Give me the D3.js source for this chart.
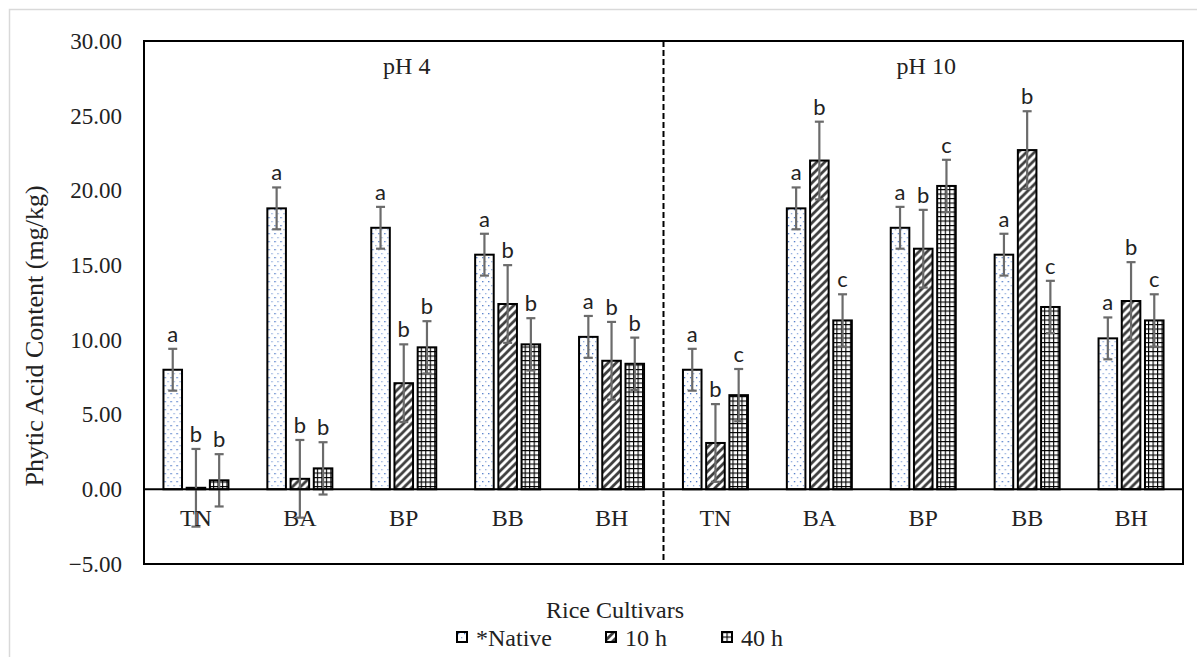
<!DOCTYPE html>
<html>
<head>
<meta charset="utf-8">
<script src="https://cdn.jsdelivr.net/npm/d3@7"></script>
<style>
  body { margin: 0; background: #fff; }
  svg { display: block; }
</style>
</head>
<body>
<div id="chart"></div>
<script>
// data
const cultivars = ['TN', 'BA', 'BP', 'BB', 'BH', 'TN', 'BA', 'BP', 'BB', 'BH'];
const panels = ['pH 4', 'pH 10'];
const series = ['*Native', '10 h', '40 h'];

const nativeVals = [8.0, 18.8, 17.5, 15.7, 10.2, 8.0, 18.8, 17.5, 15.7, 10.1];
const h10Vals = [0.1, 0.7, 7.1, 12.4, 8.6, 3.1, 22.0, 16.1, 22.7, 12.6];
const h40Vals = [0.6, 1.4, 9.5, 9.7, 8.4, 6.3, 11.3, 20.3, 12.2, 11.3];

const nativeErr = [1.4, 1.4, 1.4, 1.4, 1.4, 1.4, 1.4, 1.4, 1.4, 1.4];
const h10Err = [2.6, 2.6, 2.6, 2.6, 2.6, 2.6, 2.6, 2.6, 2.6, 2.6];
const h40Err = [1.75, 1.75, 1.75, 1.75, 1.75, 1.75, 1.75, 1.75, 1.75, 1.75];

const nativeLetters = ['a', 'a', 'a', 'a', 'a', 'a', 'a', 'a', 'a', 'a'];
const h10Letters = ['b', 'b', 'b', 'b', 'b', 'b', 'b', 'b', 'b', 'b'];
const h40Letters = ['b', 'b', 'b', 'b', 'b', 'c', 'c', 'c', 'c', 'c'];

const yTicks = [-5, 0, 5, 10, 15, 20, 25, 30];

const width = 1197, height = 657;
const plot = { left: 144, right: 1183, top: 41, bottom: 564 };

const svg = d3.select('#chart').append('svg')
    .attr('width', width)
    .attr('height', height);

// patterns
const defs = svg.append('defs');

const pDots = defs.append('pattern')
    .attr('id', 'pat-native')
    .attr('patternUnits', 'userSpaceOnUse')
    .attr('width', 6).attr('height', 8);
pDots.append('rect').attr('width', 6).attr('height', 8).attr('fill', '#fff');
pDots.append('rect').attr('x', 1).attr('y', 1).attr('width', 1.3).attr('height', 1.3).attr('fill', '#4472c4');
pDots.append('rect').attr('x', 4).attr('y', 5).attr('width', 1.3).attr('height', 1.3).attr('fill', '#8eaadb');

const pDiag = defs.append('pattern')
    .attr('id', 'pat-10h')
    .attr('patternUnits', 'userSpaceOnUse')
    .attr('width', 8).attr('height', 8);
pDiag.append('rect').attr('width', 8).attr('height', 8).attr('fill', '#fff');
pDiag.append('path')
    .attr('d', 'M-2,10 L10,-2 M-2,2 L2,-2 M6,10 L10,6')
    .attr('stroke', '#404040')
    .attr('stroke-width', 2.8);

const pGrid = defs.append('pattern')
    .attr('id', 'pat-40h')
    .attr('patternUnits', 'userSpaceOnUse')
    .attr('width', 4.5).attr('height', 4.5);
pGrid.append('rect').attr('width', 4.5).attr('height', 4.5).attr('fill', '#fff');
pGrid.append('path')
    .attr('d', 'M0,0.5 H4.5 M0.5,0 V4.5')
    .attr('stroke', '#000')
    .attr('stroke-width', 1.2);

const fills = ['url(#pat-native)', 'url(#pat-10h)', 'url(#pat-40h)'];

// outer chart border (Excel chart area)
svg.append('rect')
    .attr('x', 9.5).attr('y', 9.5)
    .attr('width', width + 20).attr('height', height + 20)
    .attr('fill', 'none')
    .attr('stroke', '#d9d9d9')
    .attr('stroke-width', 1.5);

// scales
const y = d3.scaleLinear().domain([-5, 30]).range([plot.bottom, plot.top]);
const x0 = d3.scaleBand()
    .domain(d3.range(cultivars.length))
    .range([plot.left, plot.right])
    .padding(0);
const groupW = 65;
const x1 = d3.scaleBand()
    .domain(d3.range(series.length))
    .range([0, groupW])
    .paddingInner(0.2);

const rows = cultivars.map((c, i) => ({
    i: i,
    vals: [nativeVals[i], h10Vals[i], h40Vals[i]],
    errs: [nativeErr[i], h10Err[i], h40Err[i]],
    letters: [nativeLetters[i], h10Letters[i], h40Letters[i]]
}));

const serif = "'Liberation Serif', 'Times New Roman', serif";

// y axis
const yAxis = svg.append('g')
    .attr('transform', `translate(${plot.left},0)`)
    .call(d3.axisLeft(y).tickValues(yTicks).tickFormat(d3.format('.2f')).tickSize(0).tickPadding(22));
yAxis.select('.domain').remove();
yAxis.selectAll('text')
    .attr('font-family', serif)
    .attr('font-size', 23)
    .attr('fill', '#222');

// bars
const groups = svg.selectAll('.grp')
    .data(rows)
    .join('g')
    .attr('class', 'grp')
    .attr('transform', d => `translate(${x0(d.i) + x0.bandwidth() / 2 - groupW / 2},0)`);

const cells = groups.selectAll('.cell')
    .data(d => d.vals.map((v, k) => ({ v: v, e: d.errs[k], l: d.letters[k], k: k })))
    .join('g')
    .attr('class', 'cell');

cells.append('rect')
    .attr('x', d => x1(d.k))
    .attr('y', d => y(Math.max(0, d.v)))
    .attr('width', x1.bandwidth())
    .attr('height', d => Math.abs(y(d.v) - y(0)))
    .attr('fill', d => fills[d.k])
    .attr('stroke', '#000')
    .attr('stroke-width', 2);

// x axis line at zero
svg.append('line')
    .attr('x1', plot.left).attr('x2', plot.right)
    .attr('y1', y(0)).attr('y2', y(0))
    .attr('stroke', '#000')
    .attr('stroke-width', 2);

// category labels
const xAxis = svg.append('g')
    .attr('transform', `translate(0,${y(0)})`)
    .call(d3.axisBottom(x0).tickFormat(i => cultivars[i]).tickSize(0).tickPadding(20));
xAxis.select('.domain').remove();
xAxis.selectAll('text')
    .attr('font-family', serif)
    .attr('font-size', 24)
    .attr('fill', '#222');

// error bars
const errColor = '#6b6b6b';
const capW = 9;
cells.each(function (d) {
    const g = d3.select(this);
    const cx = x1(d.k) + x1.bandwidth() / 2;
    g.append('line')
        .attr('x1', cx).attr('x2', cx)
        .attr('y1', y(d.v + d.e)).attr('y2', y(d.v - d.e))
        .attr('stroke', errColor).attr('stroke-width', 2.2);
    [d.v + d.e, d.v - d.e].forEach(t => {
        g.append('line')
            .attr('x1', cx - capW / 2).attr('x2', cx + capW / 2)
            .attr('y1', y(t)).attr('y2', y(t))
            .attr('stroke', errColor).attr('stroke-width', 2.2);
    });
    g.append('text')
        .attr('x', cx)
        .attr('y', y(d.v + d.e) - 7)
        .attr('text-anchor', 'middle')
        .attr('font-family', 'Lato, sans-serif')
        .attr('font-size', 22)
        .attr('fill', '#222')
        .text(d.l);
});

// plot frame and divider
svg.append('rect')
    .attr('x', plot.left).attr('y', plot.top)
    .attr('width', plot.right - plot.left)
    .attr('height', plot.bottom - plot.top)
    .attr('fill', 'none')
    .attr('stroke', '#000')
    .attr('stroke-width', 2);

const midX = (x0(4) + x0.bandwidth() + x0(5)) / 2;
svg.append('line')
    .attr('x1', midX).attr('x2', midX)
    .attr('y1', plot.top).attr('y2', plot.bottom)
    .attr('stroke', '#000')
    .attr('stroke-width', 2)
    .attr('stroke-dasharray', '6,3');

// panel titles
svg.selectAll('.panel')
    .data(panels)
    .join('text')
    .attr('class', 'panel')
    .attr('x', (d, i) => (x0(i * 5) + x0(i * 5 + 4) + x0.bandwidth()) / 2 + 3)
    .attr('y', 74)
    .attr('text-anchor', 'middle')
    .attr('font-family', serif)
    .attr('font-size', 24)
    .attr('fill', '#222')
    .text(d => d);

// axis titles
svg.append('text')
    .attr('transform', 'translate(43,336) rotate(-90)')
    .attr('text-anchor', 'middle')
    .attr('font-family', serif)
    .attr('font-size', 26)
    .attr('fill', '#222')
    .text('Phytic Acid Content (mg/kg)');

svg.append('text')
    .attr('x', 615)
    .attr('y', 618)
    .attr('text-anchor', 'middle')
    .attr('font-family', serif)
    .attr('font-size', 24)
    .attr('fill', '#222')
    .text('Rice Cultivars');

// legend
const legendX = [457, 606, 722];
const legend = svg.selectAll('.leg')
    .data(series)
    .join('g')
    .attr('class', 'leg')
    .attr('transform', (d, i) => `translate(${legendX[i]},632)`);
legend.append('rect')
    .attr('width', 10).attr('height', 10)
    .attr('fill', (d, i) => fills[i])
    .attr('stroke', '#000')
    .attr('stroke-width', 2);
legend.append('text')
    .attr('x', 19)
    .attr('y', 14)
    .attr('font-family', serif)
    .attr('font-size', 24)
    .attr('fill', '#222')
    .text(d => d);
</script>
</body>
</html>
